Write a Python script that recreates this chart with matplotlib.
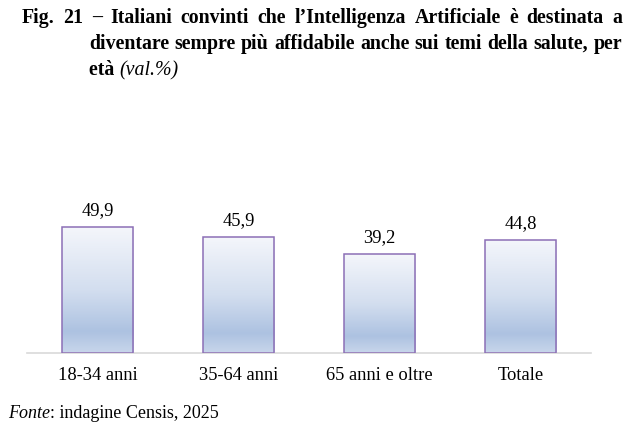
import matplotlib
matplotlib.use("Agg")
import matplotlib.pyplot as plt
import numpy as np
from matplotlib.colors import LinearSegmentedColormap

categories = ["18-34 anni", "35-64 anni", "65 anni e oltre", "Totale"]
values = [49.9, 45.9, 39.2, 44.8]
labels = ["49,9", "45,9", "39,2", "44,8"]

title_line1 = "Fig. 21 \u2013 Italiani convinti che l\u2019Intelligenza Artificiale \u00e8 destinata a"
title_line2 = "diventare sempre pi\u00f9 affidabile anche sui temi della salute, per"
title_bold3 = "et\u00e0 "
title_ital3 = "(val.%)"

W, H = 633, 433
plt.rcParams["font.family"] = ["Liberation Serif", "DejaVu Serif"]

fig = plt.figure(figsize=(W / 100, H / 100), dpi=100)


def fx(x):
    return x / W


def fy(y):
    return 1 - y / H


# axes placed in pixel terms
ax_left, ax_right, base_y = 27, 591, 353
ymax = 60
px_per_unit = 2.52
ax = fig.add_axes([fx(ax_left), fy(base_y), (ax_right - ax_left) / W, ymax * px_per_unit / H])
for s in ["top", "right", "left"]:
    ax.spines[s].set_visible(False)
ax.spines["bottom"].set_color("#d9d9d9")
ax.spines["bottom"].set_linewidth(1.2)
ax.set_yticks([])
ax.set_xticks(range(len(categories)))
ax.set_xticklabels(categories, fontsize=13.3)
ax.tick_params(axis="x", length=0, pad=10)

cmap = LinearSegmentedColormap.from_list(
    "g", [(0, "#f4f6fb"), (0.5, "#d3deef"), (0.83, "#adc2e1"), (1.0, "#c8d6eb")])
grad = np.linspace(0, 1, 256).reshape(-1, 1)
bw = 0.505
x = np.arange(len(categories))
bars = ax.bar(x, values, width=bw, facecolor="none", edgecolor="#8c6fb6", linewidth=1.1, zorder=3)
for b in bars:
    x0, w, h = b.get_x(), b.get_width(), b.get_height()
    ax.imshow(grad, cmap=cmap, extent=[x0, x0 + w, 0, h], aspect="auto", zorder=2,
              interpolation="bicubic")
ax.set_xlim(-0.5, 3.5)
ax.set_ylim(0, ymax)

for xi, v, lab in zip(x, values, labels):
    ax.annotate(lab, (xi, v), xytext=(0, 6), textcoords="offset points",
                ha="center", va="bottom", fontsize=13.3)

# justified title
renderer = fig.canvas.get_renderer()
tsize = 14.3


def justify(line, x0, x1, y):
    words = line.split(" ")
    texts = [fig.text(0, fy(y), w_, fontsize=tsize, fontweight="bold", va="baseline")
             for w_ in words]
    widths = [t.get_window_extent(renderer).width for t in texts]
    gap = (x1 - x0 - sum(widths)) / (len(words) - 1)
    pos = x0
    for t, wd in zip(texts, widths):
        t.set_x(fx(pos))
        pos += wd + gap


justify(title_line1, 22, 622, 23)
justify(title_line2, 89, 622, 49)
t3 = fig.text(fx(89), fy(75), title_bold3, fontsize=tsize, fontweight="bold", va="baseline")
w3 = t3.get_window_extent(renderer).width
fig.text(fx(89 + w3), fy(75), title_ital3, fontsize=tsize, fontstyle="italic", va="baseline")

tf = fig.text(fx(8), fy(418), "Fonte", fontsize=13, fontstyle="italic", va="baseline")
wf = tf.get_window_extent(renderer).width
fig.text(fx(8 + wf), fy(418), ": indagine Censis, 2025", fontsize=13, va="baseline")

fig.savefig("out.png", dpi=100)
